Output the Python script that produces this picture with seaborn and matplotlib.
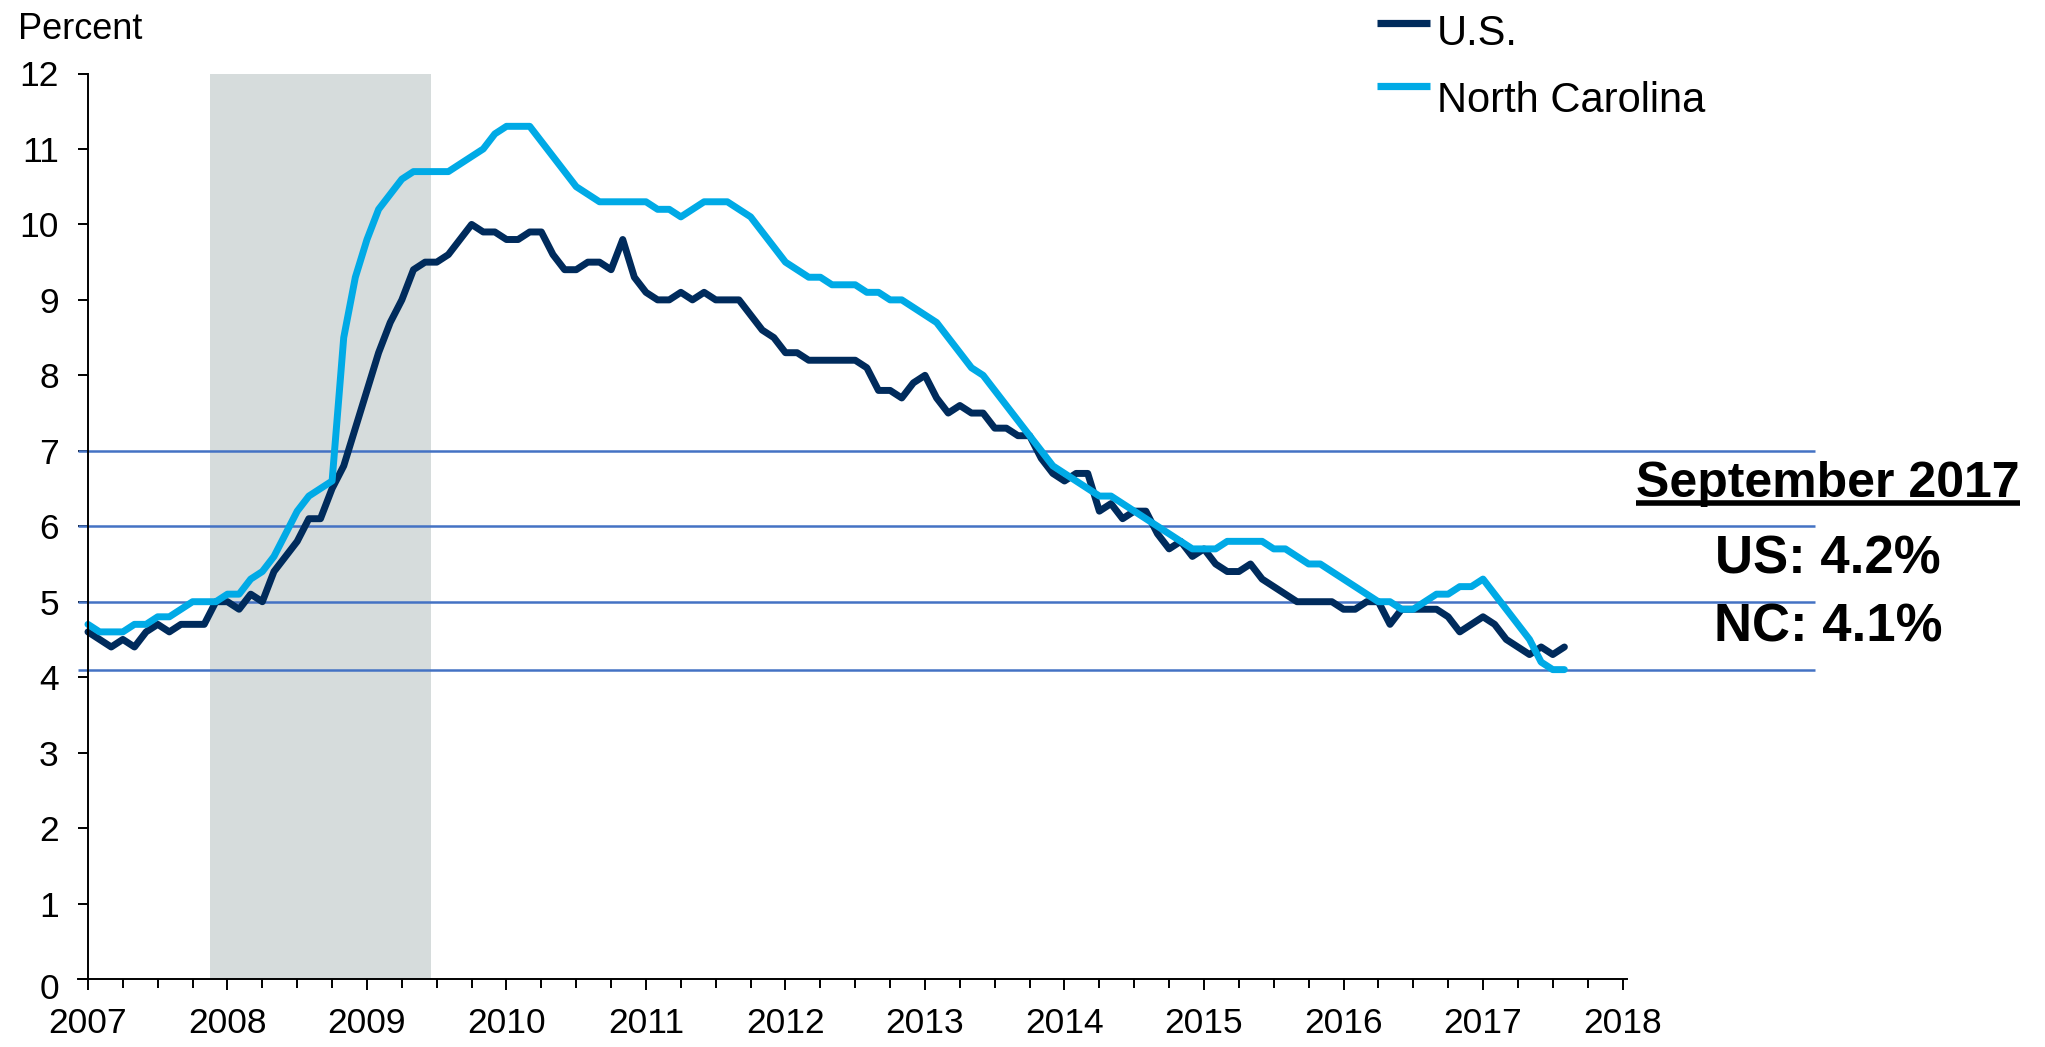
import numpy as np
import pandas as pd
import matplotlib
matplotlib.use("Agg")
import matplotlib.pyplot as plt
import matplotlib.transforms as mtransforms
import seaborn as sns
from matplotlib.ticker import MultipleLocator
from matplotlib.lines import Line2D

# ---------------- data (monthly, Jan 2007 - Aug 2017) ----------------
us_rate = [
    4.6, 4.5, 4.4, 4.5, 4.4, 4.6, 4.7, 4.6, 4.7, 4.7, 4.7, 5.0,   # 2007
    5.0, 4.9, 5.1, 5.0, 5.4, 5.6, 5.8, 6.1, 6.1, 6.5, 6.8, 7.3,   # 2008
    7.8, 8.3, 8.7, 9.0, 9.4, 9.5, 9.5, 9.6, 9.8, 10.0, 9.9, 9.9,  # 2009
    9.8, 9.8, 9.9, 9.9, 9.6, 9.4, 9.4, 9.5, 9.5, 9.4, 9.8, 9.3,   # 2010
    9.1, 9.0, 9.0, 9.1, 9.0, 9.1, 9.0, 9.0, 9.0, 8.8, 8.6, 8.5,   # 2011
    8.3, 8.3, 8.2, 8.2, 8.2, 8.2, 8.2, 8.1, 7.8, 7.8, 7.7, 7.9,   # 2012
    8.0, 7.7, 7.5, 7.6, 7.5, 7.5, 7.3, 7.3, 7.2, 7.2, 6.9, 6.7,   # 2013
    6.6, 6.7, 6.7, 6.2, 6.3, 6.1, 6.2, 6.2, 5.9, 5.7, 5.8, 5.6,   # 2014
    5.7, 5.5, 5.4, 5.4, 5.5, 5.3, 5.2, 5.1, 5.0, 5.0, 5.0, 5.0,   # 2015
    4.9, 4.9, 5.0, 5.0, 4.7, 4.9, 4.9, 4.9, 4.9, 4.8, 4.6, 4.7,   # 2016
    4.8, 4.7, 4.5, 4.4, 4.3, 4.4, 4.3, 4.4,                       # 2017
]
nc_rate = [
    4.7, 4.6, 4.6, 4.6, 4.7, 4.7, 4.8, 4.8, 4.9, 5.0, 5.0, 5.0,         # 2007
    5.1, 5.1, 5.3, 5.4, 5.6, 5.9, 6.2, 6.4, 6.5, 6.6, 8.5, 9.3,         # 2008
    9.8, 10.2, 10.4, 10.6, 10.7, 10.7, 10.7, 10.7, 10.8, 10.9, 11.0, 11.2,  # 2009
    11.3, 11.3, 11.3, 11.1, 10.9, 10.7, 10.5, 10.4, 10.3, 10.3, 10.3, 10.3,  # 2010
    10.3, 10.2, 10.2, 10.1, 10.2, 10.3, 10.3, 10.3, 10.2, 10.1, 9.9, 9.7,   # 2011
    9.5, 9.4, 9.3, 9.3, 9.2, 9.2, 9.2, 9.1, 9.1, 9.0, 9.0, 8.9,         # 2012
    8.8, 8.7, 8.5, 8.3, 8.1, 8.0, 7.8, 7.6, 7.4, 7.2, 7.0, 6.8,         # 2013
    6.7, 6.6, 6.5, 6.4, 6.4, 6.3, 6.2, 6.1, 6.0, 5.9, 5.8, 5.7,         # 2014
    5.7, 5.7, 5.8, 5.8, 5.8, 5.8, 5.7, 5.7, 5.6, 5.5, 5.5, 5.4,         # 2015
    5.3, 5.2, 5.1, 5.0, 5.0, 4.9, 4.9, 5.0, 5.1, 5.1, 5.2, 5.2,         # 2016
    5.3, 5.1, 4.9, 4.7, 4.5, 4.2, 4.1, 4.1,                             # 2017
]
series_names = ["U.S.", "North Carolina"]
year_ticks = list(range(2007, 2019))
y_ticks = list(range(0, 13))
ref_levels = [7, 6, 5, 4.1]
recession = ("2007-12", "2009-06")
ann_title = "September 2017"
ann_lines = ["US: 4.2%", "NC: 4.1%"]

# ---------------- build table ----------------
months = pd.date_range("2007-01-01", periods=len(us_rate), freq="MS")
frac_year = (months.year + (months.month - 1) / 12.0).to_numpy()
df = pd.DataFrame({
    "year": np.concatenate([frac_year, frac_year]),
    "rate": us_rate + nc_rate,
    "series": [series_names[0]] * len(us_rate) + [series_names[1]] * len(nc_rate),
})
rs = pd.Timestamp(recession[0]); re_ = pd.Timestamp(recession[1])
rec_x0 = rs.year + (rs.month - 1) / 12.0 - 0.5 / 12
rec_x1 = re_.year + (re_.month - 1) / 12.0 + 0.5 / 12

# ---------------- style ----------------
sns.set_style("ticks")
plt.rcParams["font.family"] = ["Liberation Sans", "DejaVu Sans"]
plt.rcParams["text.color"] = "black"
plt.rcParams["xtick.color"] = "black"
plt.rcParams["ytick.color"] = "black"
plt.rcParams["xtick.labelcolor"] = "black"
plt.rcParams["ytick.labelcolor"] = "black"

W, H = 2045, 1047
fig = plt.figure(figsize=(W / 100, H / 100), dpi=100)
x_lo, x_hi = 2006.93, 2018.03
ax = fig.add_axes([78.2 / W, 1 - 979 / H, 1548.5 / W, 905.5 / H])

navy = "#002B5C"
cyan = "#00AAE6"

ax.axvspan(rec_x0, rec_x1, ymin=0, ymax=1.004, color="#D6DCDC", lw=0, zorder=0)
for lvl in ref_levels:
    ax.plot([x_lo, 2019.38], [lvl, lvl], color="#4472C4", lw=1.8,
            clip_on=False, zorder=1, solid_capstyle="butt")

sns.lineplot(data=df, x="year", y="rate", hue="series", hue_order=series_names,
             palette={series_names[0]: navy, series_names[1]: cyan},
             lw=5.0, ax=ax, zorder=3, legend=False)

ax.set_xlim(x_lo, x_hi)
ax.set_ylim(0, 12)
ax.spines["left"].set_position(("data", 2007))
ax.spines["top"].set_visible(False)
ax.spines["right"].set_visible(False)
for s in ("left", "bottom"):
    ax.spines[s].set_linewidth(1.4)
    ax.spines[s].set_color("black")
    ax.spines[s].set_zorder(4)

ax.set_xticks(year_ticks)
ax.set_xticklabels([str(y) for y in year_ticks])
ax.xaxis.set_minor_locator(MultipleLocator(0.25))
ax.set_yticks(y_ticks)
ax.set_yticklabels([str(v) for v in y_ticks])
ax.tick_params(axis="x", which="major", direction="out", length=8, width=1.4,
               labelsize=25.5, pad=12, colors="black")
ax.tick_params(axis="x", which="minor", direction="out", length=6.5, width=1.4,
               colors="black")
ax.tick_params(axis="y", which="major", direction="out", length=7, width=1.4,
               labelsize=25.5, pad=14, colors="black")
ax.set_xlabel("")
ax.set_ylabel("")
# the "0" label sits a little below its tick in the reference
zero_lbl = ax.get_yticklabels()[0]
zero_lbl.set_transform(zero_lbl.get_transform() +
                       mtransforms.ScaledTranslation(0, -7 / 100, fig.dpi_scale_trans))

# legend (drawn manually, Excel-like layout)
for name, col, ly, by in [(series_names[0], navy, 23, 45),
                          (series_names[1], cyan, 86, 112)]:
    fig.add_artist(Line2D([1377 / W, 1430 / W], [1 - ly / H, 1 - ly / H], color=col,
                          lw=5.2, transform=fig.transFigure, solid_capstyle="butt"))
    fig.text(1437 / W, 1 - by / H, name, fontsize=30, ha="left", va="baseline")

# titles / annotations
fig.text(18 / W, 1 - 39 / H, "Percent", fontsize=26, ha="left", va="baseline")
t = fig.text(1828 / W, 1 - 497 / H, ann_title, fontsize=36, fontweight="bold",
             ha="center", va="baseline")
fig.text(1828 / W, 1 - 574 / H, ann_lines[0], fontsize=38, fontweight="bold",
         ha="center", va="baseline")
fig.text(1828 / W, 1 - 641 / H, ann_lines[1], fontsize=38, fontweight="bold",
         ha="center", va="baseline")

fig.canvas.draw()
bb = t.get_window_extent(fig.canvas.get_renderer())
uy = (H - 503) / H
fig.add_artist(Line2D([bb.x0 / W, bb.x1 / W], [uy, uy], color="black", lw=4,
                      transform=fig.transFigure, solid_capstyle="butt"))

fig.savefig("out.png", dpi=100, facecolor="white")
